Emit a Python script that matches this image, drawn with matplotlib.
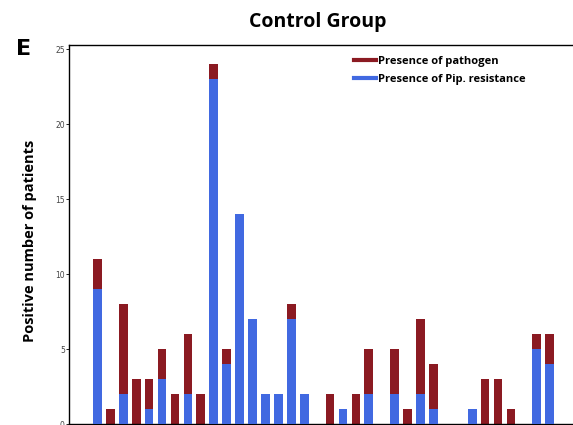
import matplotlib.pyplot as plt
import numpy as np

# one slot per patient group, 0 = empty slot
pathogen = [11, 1, 8, 3, 3, 5, 2, 6, 2, 24, 5, 14, 7, 2, 2, 8, 2, 0,
            2, 1, 2, 5, 0, 5, 1, 7, 4, 0, 0, 1, 3, 3, 1, 0, 6, 6]
resistance = [9, 0, 2, 0, 1, 3, 0, 2, 0, 23, 4, 14, 7, 2, 2, 7, 2, 0,
              0, 1, 0, 2, 0, 2, 0, 2, 1, 0, 0, 1, 0, 0, 0, 0, 5, 4]
yticks = [0, 5, 10, 15, 20, 25]

red = '#8b1a22'
blue = '#4169e1'
font = 'Open Sans'

fig = plt.figure(figsize=(5.73, 4.25), dpi=100)
ax = fig.add_axes([69 / 573, 1 / 425, 1 - 69 / 573, 379 / 425])

x = np.arange(len(pathogen))
ax.bar(x, pathogen, width=0.67, color=red, zorder=2)
ax.bar(x, resistance, width=0.67, color=blue, zorder=3)

ax.set_xlim(-2.2, 36.8)
ax.set_ylim(0, 25.3)
ax.set_xticks([])
ax.set_yticks(yticks)
ax.tick_params(axis='y', labelsize=5.5, labelcolor='#444444', length=2, width=0.6, pad=1)
for s in ['left', 'top', 'bottom']:
    ax.spines[s].set_linewidth(1.0)
ax.spines['right'].set_visible(False)

ax.set_ylabel('Positive number of patients', fontsize=10.5, fontweight='bold',
              family=font)
ax.yaxis.set_label_coords(-0.063, 0.483)

fig.text(0.555, 0.948, 'Control Group', ha='center', va='center',
         fontsize=14, fontweight='bold', family=font)
fig.text(0.028, 0.885, 'E', ha='left', va='center', fontsize=16, fontweight='bold')

h1, = ax.plot([], [], color=red, lw=3)
h2, = ax.plot([], [], color=blue, lw=3)
ax.legend([h1, h2], ['Presence of pathogen', 'Presence of Pip. resistance'],
          loc='upper left', bbox_to_anchor=(0.545, 0.997), frameon=False,
          prop={'family': font, 'weight': 'bold', 'size': 8},
          handlelength=2.0, handletextpad=0.2, labelspacing=0.6)

fig.savefig('out.png', dpi=100)
